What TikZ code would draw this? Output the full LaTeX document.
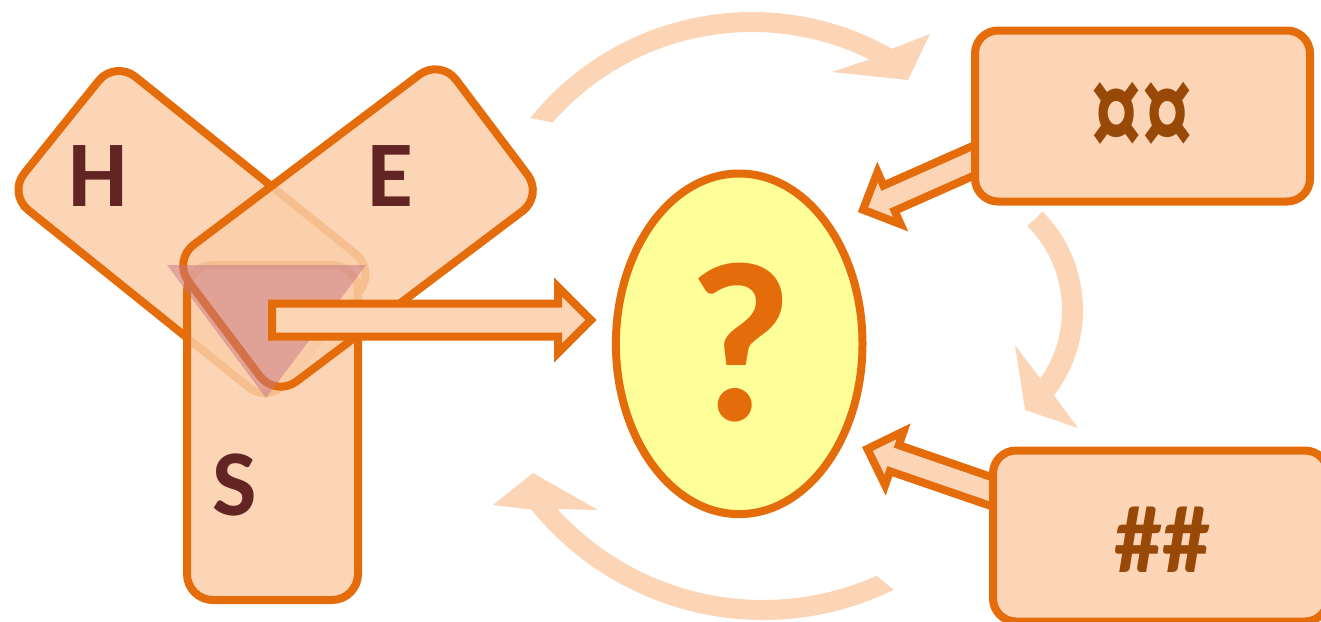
\documentclass[tikz,border=0pt]{standalone}
\usepackage{graphicx}
\usepackage{fontspec}
\setmainfont{Carlito}
\usetikzlibrary{calc,shapes.geometric}
\definecolor{peach}{RGB}{251,213,181}
\definecolor{peachT}{RGB}{250,206,168}
\definecolor{org}{RGB}{228,108,10}
\definecolor{maroon}{RGB}{99,37,35}
\definecolor{brn}{RGB}{152,72,7}
\definecolor{yel}{RGB}{255,255,153}
\definecolor{tri}{RGB}{199,119,133}
\newcommand\blockarr[6]{%
  \draw[#1] ($(#2)!#4!90:(#3)$) -- ($(#3)!#6!(#2)!#4!90:(#3)$) -- ($(#3)!#6!(#2)!#5!90:(#3)$)
    -- (#3) -- ($(#3)!#6!(#2)!#5!-90:(#3)$) -- ($(#3)!#6!(#2)!#4!-90:(#3)$) -- ($(#2)!#4!-90:(#3)$) -- cycle;}
\tikzset{
  bx/.style={rectangle, draw=org, line width=4pt, inner sep=0pt,
    minimum width=167.5pt, minimum height=85.5pt},
  tbx/.style={bx, rounded corners=13pt, fill=peachT, fill opacity=0.85},
  obx/.style={bx, rounded corners=11.5pt, fill=peach},
  carr/.style={fill=peach, draw=none},
  barr/.style={draw=org, fill=peach, line width=4pt, line join=miter},
  lett/.style={text=maroon, font=\fontsize{47pt}{47pt}\selectfont\bfseries, inner sep=0pt},
  sym/.style={text=brn, font=\fontsize{48pt}{48pt}\selectfont\bfseries, inner sep=0pt},
  egg/.style={ellipse, draw=org, line width=4pt, fill=yel, inner sep=0pt,
    minimum width=123.3pt, minimum height=170.3pt}
}
\begin{document}
\begin{tikzpicture}[x=0.5pt, y=-0.5pt]
\path[use as bounding box] (0,0) rectangle (1321,621);
\clip (0,0) rectangle (1321,621);
% curved cycle arrows
\coordinate (c1) at (752,297);
\coordinate (c2) at (943,310);
\coordinate (c3) at (763,322);
\fill[carr] ($(c1)+(141.1:142.5pt)$) arc[start angle=141.1, end angle=60.6, radius=142.5pt]
  -- (930,34) -- (908,80) -- (832,72) -- ($(c1)+(63.7:132.5pt)$)
  arc[start angle=63.7, end angle=138.8, radius=132.5pt] -- cycle;
\fill[carr] ($(c2)+(44.6:70pt)$) arc[start angle=44.6, end angle=-37.6, radius=70pt]
  -- (1078,428) -- (1025,410) -- (1015,345) -- ($(c2)+(-35.2:59.5pt)$)
  arc[start angle=-35.2, end angle=44.9, radius=59.5pt] -- cycle;
\fill[carr] ($(c3)+(-65.9:139pt)$) arc[start angle=-65.9, end angle=-137.7, radius=139pt]
  -- (598,510) -- (533,473) -- (493,505) -- ($(c3)+(-141:149pt)$)
  arc[start angle=-141, end angle=-64, radius=149pt] -- cycle;
% H E S boxes
\node[tbx, rotate=-38.8] (H) at (192,232) {};
\node[tbx, rotate=90] (S) at (272.5,432.5) {};
\node[tbx, rotate=37] (E) at (358,228) {};
\fill[tri, opacity=0.5] (167,265) -- (366,265) -- (266,398) -- cycle;
\node[lett] (tH) at (98,176) {H};
\node[lett] (tE) at (390,176) {E};
\node[lett] (tS) at (235,485) {S};
% ellipse and arrows
\coordinate (bt) at (272,320);
\coordinate (bh) at (591,320);
\blockarr{barr}{bt}{bh}{8.25pt}{16.5pt}{16.5pt}
\coordinate (a1t) at (1000,149);
\coordinate (a1h) at (863,209.7);
\coordinate (a2t) at (1018.7,501);
\coordinate (a2h) at (867.4,448.9);
\blockarr{barr}{a1t}{a1h}{6.9pt}{14.25pt}{14.25pt}
\blockarr{barr}{a2t}{a2h}{6.9pt}{14.25pt}{14.25pt}
\node[obx] (Q1) at (1142.5,116) {};
\node[obx] (Q2) at (1160.5,536) {};
\node[sym] (tQ1) at (1142,120) {\scalebox{1.05}[1.45]{¤¤}};
\node[sym] (tQ2) at (1162,540) {\#\#};
\node[egg] (Q) at (739.2,343.8) {};
\node[text=org, font=\fontsize{114pt}{114pt}\selectfont\bfseries, inner sep=0pt] (tQ) at (740,343) {?};
\end{tikzpicture}
\end{document}
